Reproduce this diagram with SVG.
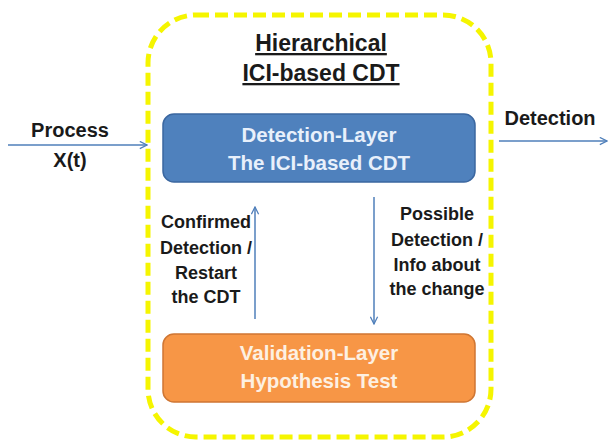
<svg xmlns="http://www.w3.org/2000/svg" width="608" height="444" viewBox="0 0 608 444">
  <style>
    text { font-family: "Liberation Sans", Arial, sans-serif; font-weight: bold; text-anchor: middle; }
    .dark { fill: #1a1a1a; }
    .title { font-size: 23px; text-decoration: underline; }
    .side { font-size: 20px; }
    .lbl { font-size: 18px; }
    .box { font-size: 20.5px; }
    .wire { stroke: #4f7fba; stroke-width: 1.5; fill: none; }
  </style>
  <defs>
    <marker id="open" viewBox="0 0 10 10" refX="9" refY="5" markerWidth="9" markerHeight="9" markerUnits="userSpaceOnUse" orient="auto">
      <path d="M1,1 L9,5 L1,9" fill="none" stroke="#4f7fba" stroke-width="1.4"/>
    </marker>
  </defs>

  <!-- dashed outer frame -->
  <g id="frame">
    <rect x="148" y="15" width="343" height="422" rx="48" fill="none" stroke="#f5f500" stroke-width="5" stroke-dasharray="13 6"/>
    <text class="dark title" x="321" y="51">Hierarchical</text>
    <text class="dark title" x="321" y="81">ICI-based CDT</text>
  </g>

  <g id="detection-layer">
    <rect x="163" y="114" width="312" height="68" rx="11" fill="#4f81bd" stroke="#3b67a0" stroke-width="1.5"/>
    <text class="box" x="319" y="142" fill="#e8f0fb">Detection-Layer</text>
    <text class="box" x="319" y="170" fill="#e8f0fb">The ICI-based CDT</text>
  </g>

  <g id="validation-layer">
    <rect x="163" y="334" width="312" height="68" rx="11" fill="#f79646" stroke="#cf7633" stroke-width="1.5"/>
    <text class="box" x="319" y="360" fill="#fdf0e2">Validation-Layer</text>
    <text class="box" x="319" y="388" fill="#fdf0e2">Hypothesis Test</text>
  </g>

  <g id="input">
    <text class="dark side" x="70" y="137">Process</text>
    <text class="dark side" x="70" y="167">X(t)</text>
  </g>

  <g id="output">
    <text class="dark side" x="550" y="125">Detection</text>
  </g>

  <g id="connectors">
    <line class="wire" x1="8" y1="145" x2="147" y2="145" marker-end="url(#open)"/>
    <line class="wire" x1="499" y1="141" x2="607" y2="141" marker-end="url(#open)"/>
    <line class="wire" x1="255" y1="319" x2="255" y2="207" marker-end="url(#open)"/>
    <line class="wire" x1="374" y1="197" x2="374" y2="324" marker-end="url(#open)"/>
  </g>

  <g id="labels">
    <text class="dark lbl" x="206" y="228">Confirmed</text>
    <text class="dark lbl" x="206" y="254">Detection /</text>
    <text class="dark lbl" x="206" y="279">Restart</text>
    <text class="dark lbl" x="206" y="303">the CDT</text>
    <text class="dark lbl" x="437" y="220">Possible</text>
    <text class="dark lbl" x="437" y="246">Detection /</text>
    <text class="dark lbl" x="437" y="271">Info about</text>
    <text class="dark lbl" x="437" y="295">the change</text>
  </g>
</svg>
